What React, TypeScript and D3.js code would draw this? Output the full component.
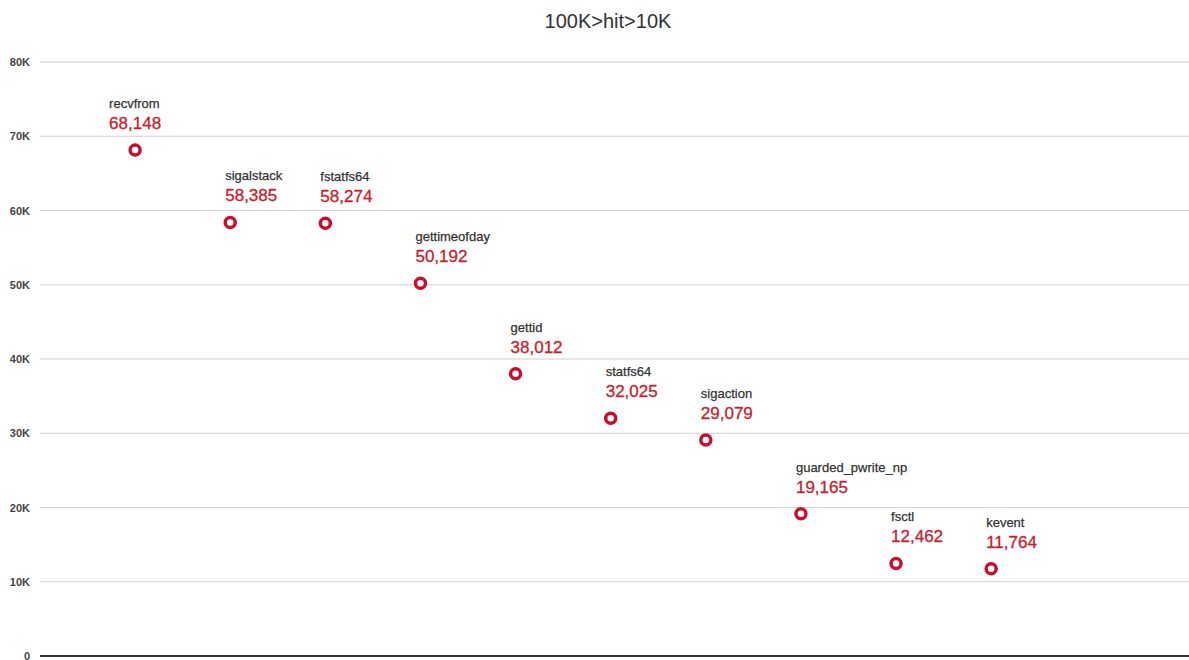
import React, { useEffect, useRef } from "react";
import * as d3 from "d3";

// data
const names = [
  "recvfrom",
  "sigalstack",
  "fstatfs64",
  "gettimeofday",
  "gettid",
  "statfs64",
  "sigaction",
  "guarded_pwrite_np",
  "fsctl",
  "kevent",
];
const hits = [68148, 58385, 58274, 50192, 38012, 32025, 29079, 19165, 12462, 11764];
const yTicks = [0, 10000, 20000, 30000, 40000, 50000, 60000, 70000, 80000];
const tickLabels = ["0", "10K", "20K", "30K", "40K", "50K", "60K", "70K", "80K"];

const W = 1189;
const H = 660;
const FONT = "'Liberation Sans', Arial, sans-serif";

const App = () => {
  const svgRef = useRef<SVGSVGElement | null>(null);

  useEffect(() => {
    const margin = { top: 62, right: 0, bottom: 4, left: 40 };

    const x = d3.scaleLinear().domain([0, 12.08]).range([margin.left, W - margin.right]);
    const y = d3.scaleLinear().domain([0, 80000]).range([H - margin.bottom, margin.top]);

    const svg = d3.select(svgRef.current);
    svg.selectAll("*").remove();

    svg.append("rect").attr("width", W).attr("height", H).attr("fill", "#fff");

    // title
    svg
      .append("text")
      .attr("x", 608)
      .attr("y", 28)
      .attr("text-anchor", "middle")
      .style("font-family", FONT)
      .style("font-size", "20px")
      .style("fill", "#333")
      .text("100K>hit>10K");

    // grid
    const grid = svg.append("g");
    grid
      .selectAll("line")
      .data(yTicks)
      .enter()
      .append("line")
      .attr("x1", margin.left)
      .attr("x2", W)
      .attr("y1", (d) => y(d))
      .attr("y2", (d) => y(d))
      .attr("stroke", (d) => (d === 0 ? "#333" : "#d0d0d0"))
      .attr("stroke-width", (d) => (d === 0 ? 2 : 1.2));

    grid
      .selectAll("text")
      .data(yTicks)
      .enter()
      .append("text")
      .attr("x", 30)
      .attr("y", (d) => y(d) + 4)
      .attr("text-anchor", "end")
      .style("font-family", FONT)
      .style("font-size", "11px")
      .style("font-weight", "bold")
      .style("fill", "#444")
      .text((_, i) => tickLabels[i]);

    // points
    const pts = svg
      .selectAll("g.pt")
      .data(hits)
      .enter()
      .append("g")
      .attr("class", "pt")
      .attr("transform", (d, i) => `translate(${x(i + 1)},${y(d)})`);

    pts
      .append("circle")
      .attr("r", 5)
      .attr("fill", "#fff")
      .attr("stroke", "#c8102e")
      .attr("stroke-width", 3.5);

    // first label sits centred over its point, the rest start just left of it
    const lx = (i: number) => (i === 0 ? -26 : -5);

    pts
      .append("text")
      .attr("x", (_, i) => lx(i))
      .attr("y", -42)
      .style("font-family", FONT)
      .style("font-size", "13px")
      .style("fill", "#333")
      .style("stroke", "#333")
      .style("stroke-width", 0.25)
      .text((_, i) => names[i]);

    pts
      .append("text")
      .attr("x", (_, i) => lx(i))
      .attr("y", -21)
      .style("font-family", FONT)
      .style("font-size", "17px")
      .style("fill", "#c8202e")
      .style("stroke", "#c8202e")
      .style("stroke-width", 0.3)
      .text((d) => d3.format(",")(d));
  }, []);

  return (
    <div style={{ position: "fixed", left: 0, top: 0, width: W, height: H, overflow: "hidden" }}>
      <svg ref={svgRef} width={W} height={H} style={{ display: "block" }}></svg>
    </div>
  );
};

export default App;
